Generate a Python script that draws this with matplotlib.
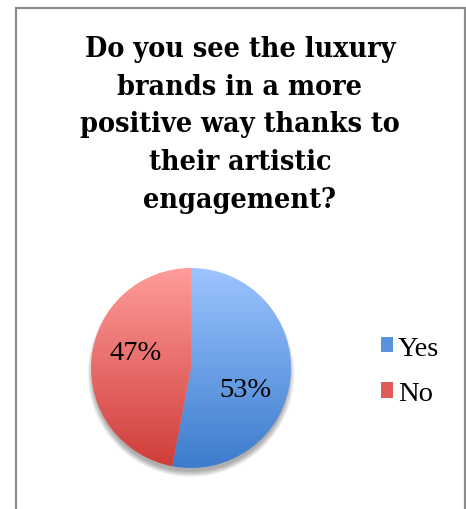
import numpy as np
import matplotlib
matplotlib.use("Agg")
import matplotlib.pyplot as plt
from matplotlib.colors import LinearSegmentedColormap
from matplotlib.patches import Rectangle, Ellipse

categories = ["Yes", "No"]
shares = [53, 47]
title = "Do you see the luxury\nbrands in a more\npositive way thanks to\ntheir artistic\nengagement?"

# gradient end colours (top, bottom) for each slice
grad_top = ["#9cc4ff", "#ff9c9a"]
grad_bottom = ["#3c7ccc", "#cf3c38"]
solid = ["#5a92dc", "#e05a56"]

W, H, DPI = 466, 510, 100
fig = plt.figure(figsize=(W / DPI, H / DPI), dpi=DPI)
fig.patch.set_facecolor("white")

# outer chart frame
fig.add_artist(Rectangle((16 / W, -0.05), (W - 17) / W, 1.05 - 9 / H,
                         transform=fig.transFigure, fill=False,
                         edgecolor="#8c8c8c", linewidth=1.6))

fig.text(0.515, 1 - 36 / H, title, ha="center", va="top",
         family="DejaVu Serif", weight="bold", fontsize=20.5,
         fontstretch="condensed", linespacing=1.51, color="black")

cx, cy, r = 191, 369, 100
ax = fig.add_axes([(cx - r - 10) / W, 1 - (cy + r + 10) / H,
                   (2 * r + 20) / W, (2 * r + 20) / H])
ax.axis("off")

# soft drop shadow under the pie
for k in range(10):
    s = 0.98 + 0.006 * k
    ax.add_patch(Ellipse((0, -0.055), 2 * s, 2 * s, color="black",
                         alpha=0.035, lw=0, zorder=0))

wedges, _, autotexts = ax.pie(shares, startangle=90, counterclock=False,
                              radius=1.0, autopct=lambda p: f"{round(p)}%",
                              pctdistance=0.62, colors=solid, center=(0, 0),
                              textprops=dict(family="Liberation Serif",
                                             fontsize=20.5, color="black"))

grad = np.linspace(0, 1, 256).reshape(-1, 1)
for w, top, bot in zip(wedges, grad_top, grad_bottom):
    cmap = LinearSegmentedColormap.from_list("g", [top, bot])
    im = ax.imshow(grad, cmap=cmap, extent=(-1, 1, -1, 1), origin="upper",
                   aspect="auto", zorder=1.5)
    im.set_clip_path(w)
    w.set_facecolor("none")
    w.set_zorder(2)
    w.set_edgecolor("none")
ax.set_xlim(-1.1, 1.1)
ax.set_ylim(-1.1, 1.1)
ax.set_aspect("equal")

# nudge the percentage labels into the usual best-fit spots
for t in autotexts:
    t.set_zorder(5)
yes_lbl, no_lbl = autotexts
yes_lbl.set_position((yes_lbl.get_position()[0] - 0.07,
                      yes_lbl.get_position()[1] - 0.16))
no_lbl.set_position((no_lbl.get_position()[0] + 0.06,
                     no_lbl.get_position()[1] + 0.1))

handles = [Rectangle((0, 0), 1, 1, facecolor=c, edgecolor="none") for c in solid]
fig.legend(handles, categories, loc="center left",
           bbox_to_anchor=(355 / W, 1 - 372 / H), frameon=False,
           prop=dict(family="Liberation Serif", size=20.5),
           handlelength=0.45, handleheight=0.45, handletextpad=0.15,
           labelspacing=0.72)

fig.savefig("out.png", dpi=DPI, facecolor="white")
